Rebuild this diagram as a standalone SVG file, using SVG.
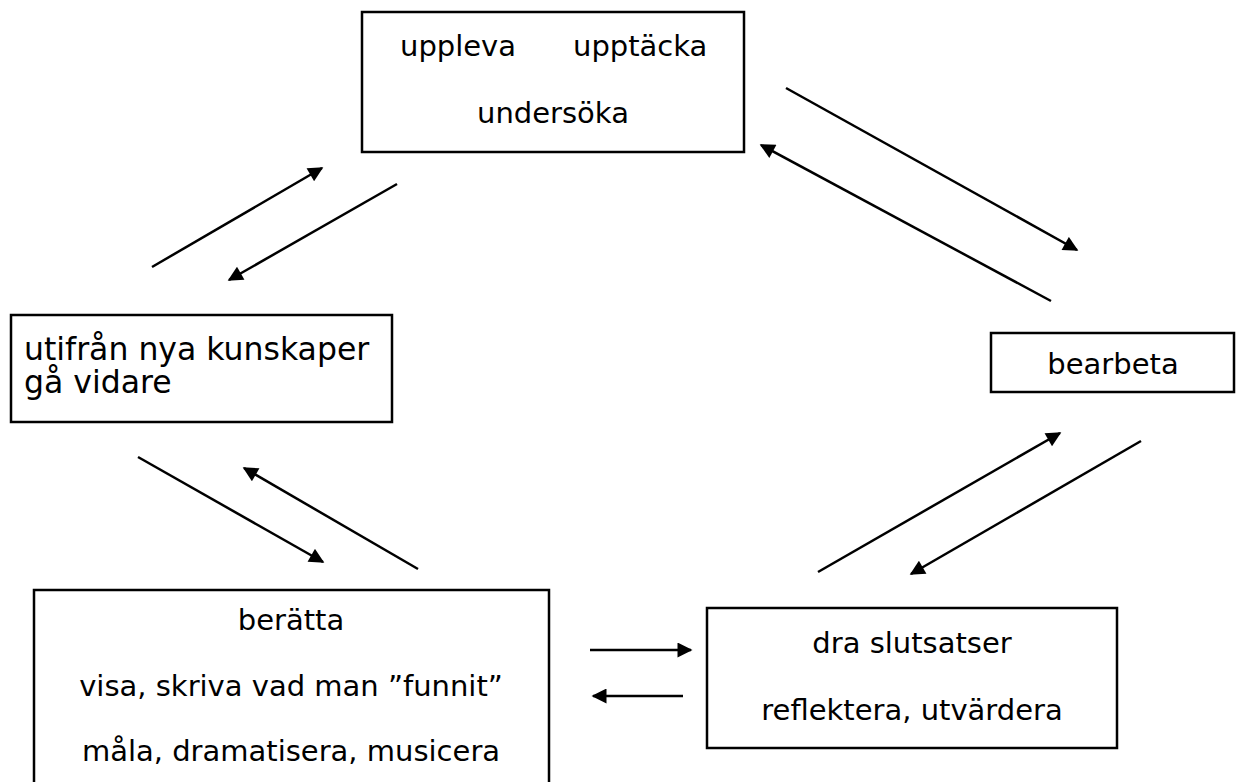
<svg xmlns="http://www.w3.org/2000/svg" width="1237" height="782" viewBox="0 0 1237 782">
<defs>
<style>
.box{fill:#fff;stroke:#000;stroke-width:2.5}
.t{font-family:"DejaVu Sans","Liberation Sans",sans-serif;font-size:29px;fill:#000}
.big{font-size:31.5px}
.c{text-anchor:middle}
.arr{stroke:#000;stroke-width:2.5;fill:none;marker-end:url(#ah)}
</style>
<marker id="ah" viewBox="0 0 10 10" refX="9" refY="5" markerWidth="7" markerHeight="6" markerUnits="strokeWidth" orient="auto">
<path d="M0,0 L10,5 L0,10 z" fill="#000"/>
</marker>
</defs>
<rect width="1237" height="782" fill="#fff"/>
<g id="node-top">
<rect class="box" x="362" y="12" width="382" height="140"/>
<text class="t" x="400" y="56">uppleva</text>
<text class="t" x="573" y="56">upptäcka</text>
<text class="t c" x="553" y="123">undersöka</text>
</g>
<g id="node-left">
<rect class="box" x="11" y="315" width="381" height="107"/>
<text class="t big" x="24" y="360">utifrån nya kunskaper</text>
<text class="t big" x="24" y="393">gå vidare</text>
</g>
<g id="node-right">
<rect class="box" x="991" y="333" width="243" height="59"/>
<text class="t c" x="1113" y="374">bearbeta</text>
</g>
<g id="node-bottom-left">
<rect class="box" x="34" y="590" width="515" height="200"/>
<text class="t c" x="291" y="630">berätta</text>
<text class="t c" x="291" y="696">visa, skriva vad man ”funnit”</text>
<text class="t c" x="291" y="761">måla, dramatisera, musicera</text>
</g>
<g id="node-bottom-right">
<rect class="box" x="707" y="608" width="410" height="140"/>
<text class="t c" x="912" y="653">dra slutsatser</text>
<text class="t c" x="912" y="720">reflektera, utvärdera</text>
</g>
<g id="connectors">
<line class="arr" x1="152" y1="267" x2="322" y2="168"/>
<line class="arr" x1="397" y1="184" x2="229" y2="280"/>
<line class="arr" x1="786" y1="88" x2="1077" y2="250"/>
<line class="arr" x1="1051" y1="301" x2="761" y2="145"/>
<line class="arr" x1="818" y1="572" x2="1060" y2="433"/>
<line class="arr" x1="1141" y1="441" x2="911" y2="574"/>
<line class="arr" x1="138" y1="457" x2="323" y2="562"/>
<line class="arr" x1="418" y1="569" x2="244" y2="468"/>
<line class="arr" x1="590" y1="650" x2="691" y2="650"/>
<line class="arr" x1="683" y1="696" x2="593" y2="696"/>
</g>
</svg>
